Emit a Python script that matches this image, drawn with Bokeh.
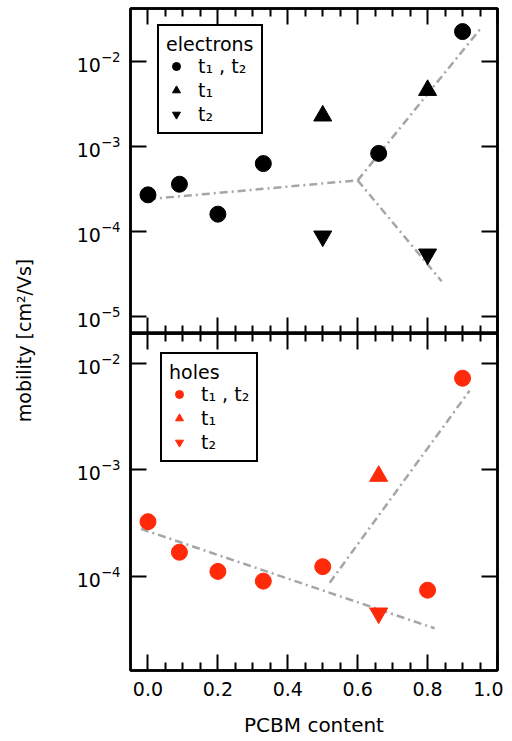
import numpy as np
from bokeh.plotting import figure
from bokeh.layouts import row, column
from bokeh.models import (Range1d, FixedTicker, LinearAxis, LogAxis, Legend,
                          LegendItem, CustomJSTickFormatter, PrintfTickFormatter)
from bokeh.core.properties import value
from bokeh.embed import file_html
from bokeh.resources import INLINE

FONT = "DejaVu Sans"
RED = "#ff2a0a"
GRAY = "#a6a6a6"

# ---------------- data: electrons (top panel) ----------------
e_circ_x = [0.0, 0.09, 0.2, 0.33, 0.66, 0.9]
e_circ_y = [2.7e-4, 3.6e-4, 1.6e-4, 6.3e-4, 8.3e-4, 2.25e-2]
e_up_x = [0.5, 0.8]
e_up_y = [2.3e-3, 4.6e-3]
e_dn_x = [0.5, 0.8]
e_dn_y = [8.8e-5, 5.4e-5]
e_fit1_x = [0.0, 0.6]
e_fit1_y = [2.4e-4, 4.0e-4]
e_fit2_x = [0.6, 0.95]
e_fit2_y = [4.0e-4, 2.4e-2]
e_fit3_x = [0.6, 0.84]
e_fit3_y = [4.0e-4, 2.6e-5]

# ---------------- data: holes (bottom panel) ----------------
h_circ_x = [0.0, 0.09, 0.2, 0.33, 0.5, 0.8, 0.9]
h_circ_y = [3.25e-4, 1.68e-4, 1.11e-4, 9.0e-5, 1.23e-4, 7.4e-5, 7.2e-3]
h_up_x = [0.66]
h_up_y = [8.7e-4]
h_dn_x = [0.66]
h_dn_y = [4.5e-5]
h_fit1_x = [-0.02, 0.82]
h_fit1_y = [2.78e-4, 3.25e-5]
h_fit2_x = [0.52, 0.92]
h_fit2_y = [8.7e-5, 5.5e-3]

# ---------------- ticks / labels ----------------
x_major = [0.0, 0.2, 0.4, 0.6, 0.8, 1.0]
x_minor = [0.05, 0.1, 0.15, 0.25, 0.3, 0.35, 0.45, 0.5, 0.55, 0.65, 0.7,
           0.75, 0.85, 0.9, 0.95]
y_major_top = [1e-5, 1e-4, 1e-3, 1e-2]
y_major_bot = [1e-4, 1e-3, 1e-2]
x_title = "PCBM content"
y_title = "mobility [cm\u00b2/Vs]"
lbl_both = "t\u2081 , t\u2082"
lbl_t1 = "t\u2081"
lbl_t2 = "t\u2082"

EMPTY = CustomJSTickFormatter(code="return ''")


def style_axis(ax, labels=True, tick_len=15, minor_len=8):
    ax.axis_line_width = 2.5
    ax.axis_line_color = "black"
    ax.major_tick_in = tick_len
    ax.major_tick_out = 0
    ax.minor_tick_in = minor_len
    ax.minor_tick_out = 0
    ax.major_tick_line_width = 2
    ax.minor_tick_line_width = 2
    ax.major_label_text_font = FONT
    ax.major_label_text_font_size = "19px"
    ax.major_label_text_color = "black"
    ax.axis_label_text_font = FONT
    ax.axis_label_text_font_size = "20px"
    ax.axis_label_text_font_style = "normal"
    ax.axis_label_text_color = "black"
    if not labels:
        ax.formatter = EMPTY
        ax.major_label_text_font_size = "0px"
        ax.major_label_standoff = 0


def make_panel(y0, y1, yticks, frame_h, top_border, bottom_border, xlabels):
    p = figure(frame_width=367, frame_height=frame_h,
               x_range=Range1d(-0.05, 1.0), y_range=Range1d(y0, y1),
               y_axis_type="log", x_axis_location=None, y_axis_location=None,
               output_backend="svg", toolbar_location=None,
               min_border_left=84, min_border_right=6,
               min_border_top=top_border, min_border_bottom=bottom_border)
    p.xgrid.grid_line_color = None
    p.ygrid.grid_line_color = None
    p.outline_line_color = "black"
    p.outline_line_width = 2.5
    p.background_fill_color = "white"
    p.border_fill_color = "white"

    xt = FixedTicker(ticks=x_major, minor_ticks=x_minor)
    yt = FixedTicker(ticks=yticks, minor_ticks=[])

    below = LinearAxis(ticker=xt)
    style_axis(below, labels=xlabels, tick_len=16, minor_len=8)
    if xlabels:
        below.formatter = PrintfTickFormatter(format="%.1f")
        below.major_label_standoff = 11
        below.axis_label = x_title
        below.axis_label_standoff = 14
    p.add_layout(below, "below")

    above = LinearAxis(ticker=xt)
    style_axis(above, labels=False, tick_len=16, minor_len=8)
    p.add_layout(above, "above")

    left = LogAxis(ticker=yt)
    style_axis(left, labels=True, tick_len=16)
    left.major_label_standoff = 10
    p.add_layout(left, "left")

    right = LogAxis(ticker=yt)
    style_axis(right, labels=False, tick_len=16)
    p.add_layout(right, "right")
    return p


def add_legend(p, title, items, loc):
    leg = Legend(items=items, title=title, location=loc,
                 border_line_color="black", border_line_width=2.5,
                 border_line_alpha=1.0,
                 background_fill_color="white", background_fill_alpha=1.0,
                 padding=7, spacing=2, margin=0,
                 label_standoff=12, glyph_width=20, glyph_height=20,
                 label_text_font=FONT, label_text_font_size="19px",
                 label_text_color="black",
                 title_text_font=FONT, title_text_font_size="19px",
                 title_text_color="black",
                 title_text_font_style="normal", title_standoff=0)
    p.add_layout(leg)


# ---------------- top panel: electrons ----------------
top = make_panel(10 ** -5.2, 10 ** -1.376, y_major_top, 325, 8, 0, False)
for fx, fy in [(e_fit1_x, e_fit1_y), (e_fit2_x, e_fit2_y), (e_fit3_x, e_fit3_y)]:
    top.line(fx, fy, line_color=GRAY, line_width=2.5, line_dash="8 4 2 4")
r1 = top.scatter(e_circ_x, e_circ_y, marker="circle", size=16,
                 fill_color="black", line_color="black")
r2 = top.scatter(e_up_x, e_up_y, marker="triangle", size=18,
                 fill_color="black", line_color="black")
r3 = top.scatter(e_dn_x, e_dn_y, marker="inverted_triangle", size=18,
                 fill_color="black", line_color="black")
add_legend(top, "electrons",
           [LegendItem(label=lbl_both, renderers=[r1]),
            LegendItem(label=lbl_t1, renderers=[r2]),
            LegendItem(label=lbl_t2, renderers=[r3])],
           (27, 199))

# ---------------- bottom panel: holes ----------------
bot = make_panel(10 ** -4.884, 10 ** -1.723, y_major_bot, 337, 0, 66, True)
for fx, fy in [(h_fit1_x, h_fit1_y), (h_fit2_x, h_fit2_y)]:
    bot.line(fx, fy, line_color=GRAY, line_width=2.5, line_dash="8 4 2 4")
q1 = bot.scatter(h_circ_x, h_circ_y, marker="circle", size=16,
                 fill_color=RED, line_color=RED)
q2 = bot.scatter(h_up_x, h_up_y, marker="triangle", size=18,
                 fill_color=RED, line_color=RED)
q3 = bot.scatter(h_dn_x, h_dn_y, marker="inverted_triangle", size=18,
                 fill_color=RED, line_color=RED)
add_legend(bot, "holes",
           [LegendItem(label=lbl_both, renderers=[q1]),
            LegendItem(label=lbl_t1, renderers=[q2]),
            LegendItem(label=lbl_t2, renderers=[q3])],
           (30, 208))

# ---------------- shared y label ----------------
lab = figure(width=46, height=680, x_range=Range1d(0, 1), y_range=Range1d(0, 1),
             x_axis_location=None, y_axis_location=None,
             output_backend="svg", toolbar_location=None, min_border=0)
lab.xgrid.grid_line_color = None
lab.ygrid.grid_line_color = None
lab.outline_line_color = None
lab.text(x=[0.5], y=[0.5], text=[y_title], angle=np.pi / 2,
         text_align="center", text_baseline="middle",
         text_font=value(FONT), text_font_size="19px", text_color="black")

layout = row(lab, column(top, bot))
open("out.html", "w").write(file_html(layout, INLINE))
